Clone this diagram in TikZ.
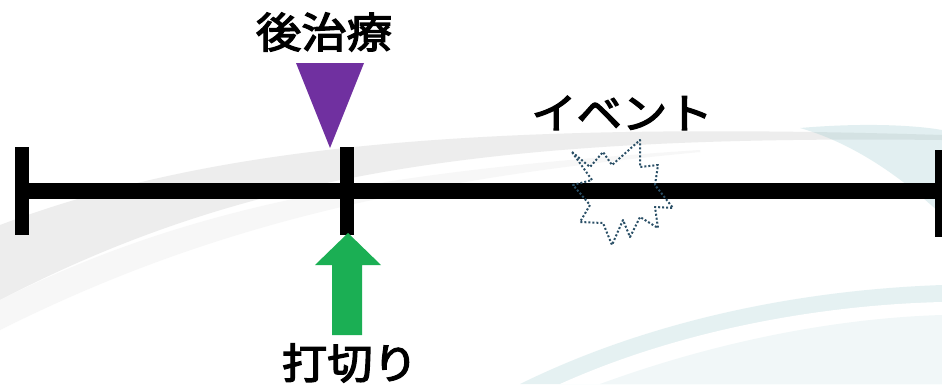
\documentclass[tikz,border=0pt]{standalone}
\usepackage{fontspec}
\newfontfamily\jp{Noto Sans CJK JP}[FakeBold=3]
\definecolor{purp}{HTML}{7030A0}
\definecolor{grn}{HTML}{1BAF54}
\definecolor{burst}{HTML}{2A4F66}
\definecolor{teal}{HTML}{8CC3C8}
\tikzset{
  lbl/.style={font=\jp\fontsize{42}{44}\selectfont, inner sep=0pt, text=black, xscale=1.08},
  tick/.style={line width=14pt},
  axis/.style={line width=16pt},
}
\begin{document}
\begin{tikzpicture}[x=1pt,y=-1pt]
\useasboundingbox (0,0) rectangle (942,384);
\fill[white] (0,0) rectangle (942,384);
% background swooshes
\begin{scope}
\clip (0,0) rectangle (942,384);
\fill[gray!14] (0,225) .. controls (200,150) and (450,120) .. (942,135)
  -- (942,140) .. controls (500,135) and (250,170) .. (0,300) -- cycle;
\fill[gray!6] (0,300) .. controls (200,200) and (400,170) .. (700,150)
  -- (700,152) .. controls (400,180) and (200,230) .. (0,330) -- cycle;
\fill[teal, opacity=0.25] (800,128) .. controls (870,122) and (920,126) .. (942,130)
  -- (942,215) .. controls (910,185) and (860,145) .. (800,128) -- cycle;
\fill[teal, opacity=0.22] (520,384) .. controls (650,320) and (800,290) .. (942,285)
  -- (942,384) -- cycle;
\fill[white] (560,384) .. controls (680,330) and (820,305) .. (942,302)
  -- (942,384) -- cycle;
\fill[teal, opacity=0.12] (600,384) .. controls (720,340) and (840,318) .. (942,315)
  -- (942,384) -- cycle;
\end{scope}
% axis
\coordinate (L) at (22,191);
\coordinate (M) at (347,191);
\coordinate (R) at (942,191);
\draw[axis] (L) -- (R);
\draw[tick] (22,147) -- (22,235);
\draw[tick] (347,147) -- (347,235);
\draw[tick] (942,150) -- (942,237);
% purple triangle
\fill[purp] (296,63) -- (364,63) -- (330,148) -- cycle;
\node[lbl] (post) at (324,32) {後治療};
% green arrow
\node[lbl] (cut) at (350,363) {打切り};
\fill[grn] (332,335) -- (332,265) -- (315,265) -- (348,233) -- (381,265) -- (362,265) -- (362,335) -- cycle;
% event
\node[lbl] (ev) at (622,113) {イベント};
\draw[burst, line width=2pt, dotted, line join=round]
  (572,152) -- (590,167) -- (603,152) -- (612,165) -- (640,140) -- (640,167)
  -- (658,165) -- (655,185) -- (673,208) -- (655,207) -- (658,228) -- (640,217)
  -- (630,237) -- (623,220) -- (612,245) -- (603,223) -- (580,222) -- (590,205)
  -- (573,185) -- (592,180) -- cycle;
\end{tikzpicture}
\end{document}
